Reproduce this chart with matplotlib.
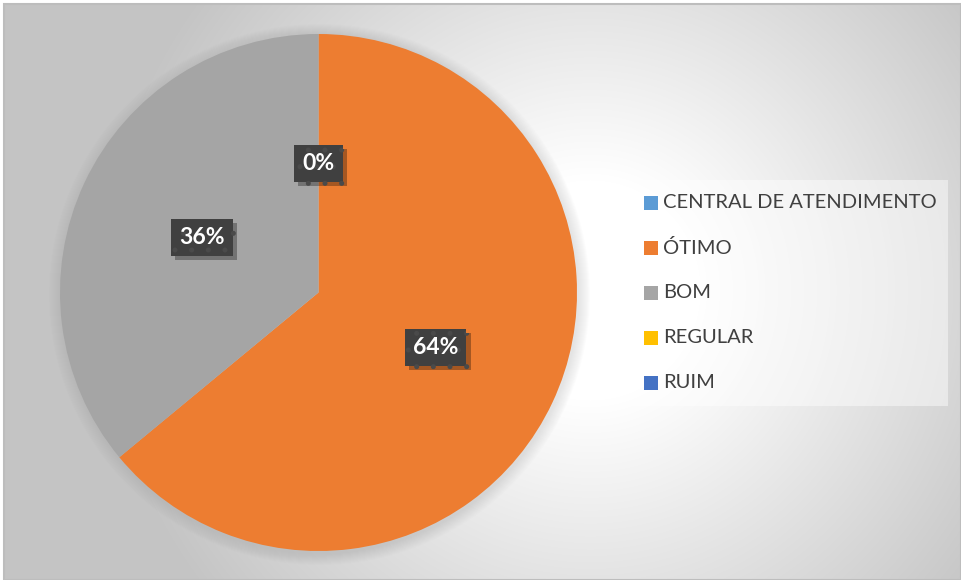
import numpy as np
import matplotlib
matplotlib.use("Agg")
import matplotlib.pyplot as plt
import matplotlib.patches as patches
import matplotlib.patheffects as pe

# data
categories = ['CENTRAL DE ATENDIMENTO', 'ÓTIMO', 'BOM', 'REGULAR', 'RUIM']
values = [0, 64, 36, 0, 0]
colors = ['#5B9BD5', '#ED7D31', '#A5A5A5', '#FFC000', '#4472C4']

W, H = 961, 580
plt.rcParams['font.family'] = ['Lato', 'DejaVu Sans']
plt.rcParams['hatch.linewidth'] = 1.2

fig = plt.figure(figsize=(W / 100, H / 100), dpi=100)
fig.patch.set_facecolor('white')
ax = fig.add_axes([0, 0, 1, 1])
ax.set_xlim(0, W)
ax.set_ylim(0, H)
ax.set_aspect('equal')
ax.axis('off')

# radial background gradient inside the chart frame
x0, y0 = 4, 4   # frame top-left in pixels
gx, gy = np.meshgrid(np.arange(x0, W), np.arange(y0, H))
cx, cy = 590, 290
d = np.hypot(gx - cx, gy - cy)
t = np.clip((d - 110) / 380, 0, 1)
shade = 1.0 - t * (1.0 - 0.77)
img = np.dstack([shade, shade, shade])
ax.imshow(img, extent=(x0, W, 0, H - y0), origin='upper', zorder=0, interpolation='bilinear')
ax.add_patch(patches.Rectangle((x0, 0), W - x0, H - y0, fill=False, edgecolor='#bdbdbd', linewidth=1.5, zorder=1))

# pie
pcx, pcy, pr = 318.5, H - 292.5, 258.5
for k in range(12):
    ax.add_patch(patches.Circle((pcx + 1, pcy - 2), pr + 12 - k, color='#909090', alpha=0.02, lw=0, zorder=2))
wedges, _ = ax.pie(values, colors=colors, startangle=90, counterclock=False,
                   center=(pcx, pcy), radius=pr, frame=True,
                   wedgeprops=dict(linewidth=0, zorder=3))
for w in wedges:
    w.set_zorder(3)
ax.set_xlim(0, W)
ax.set_ylim(0, H)
ax.axis('off')

total = sum(values)
zero_done = False
for w, v in zip(wedges, values):
    # zero slices all sit at 12 o'clock, only one label is visible there
    if v == 0:
        if zero_done:
            continue
        zero_done = True
    ang = np.deg2rad((w.theta1 + w.theta2) / 2)
    lx = pcx + 0.5 * pr * np.cos(ang)
    ly = pcy + 0.5 * pr * np.sin(ang)
    txt = ax.text(lx, ly, '%d%%' % round(100 * v / total), ha='center', va='center',
                  fontsize=16.5, fontweight='bold', color='white', zorder=6,
                  bbox=dict(boxstyle='square,pad=0.36', facecolor='#404040',
                            edgecolor='#4a4a4a', linewidth=0, hatch='.'))
    txt.get_bbox_patch().set_path_effects([
        pe.SimplePatchShadow(offset=(3, -3), shadow_rgbFace='black', alpha=0.3),
        pe.Normal()])

# legend
ax.add_patch(patches.Rectangle((631, H - 406), 317, 226, facecolor='white', alpha=0.45, lw=0, zorder=4))
leg_top, leg_step = 202.5, 45
for i, (name, c) in enumerate(zip(categories, colors)):
    yc = H - (leg_top + i * leg_step)
    ax.add_patch(patches.Rectangle((644, yc - 7), 14, 14, facecolor=c, lw=0, zorder=5))
    ax.text(663, yc, name, ha='left', va='center', fontsize=14.5, color='#404040', zorder=5)

fig.savefig('out.png', dpi=100)
